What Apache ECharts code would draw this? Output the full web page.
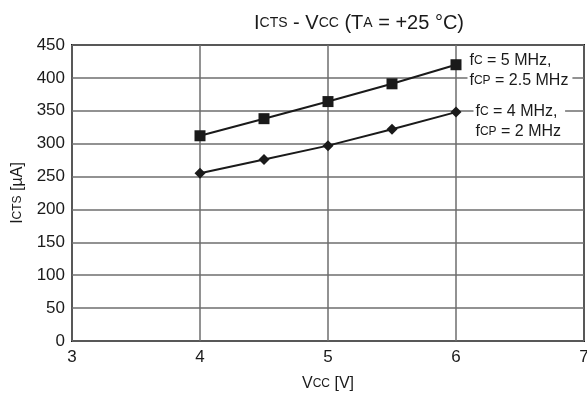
<!DOCTYPE html>
<html>
<head>
<meta charset="utf-8">
<script src="https://cdn.jsdelivr.net/npm/echarts@6/dist/echarts.min.js"></script>
<style>
  html, body { margin: 0; padding: 0; background: #fff; }
  #chart { width: 587px; height: 398px; }
</style>
</head>
<body>
<div id="chart"></div>
<script>
// supply voltage points [V]
const vccValues = [4, 4.5, 5, 5.5, 6];
// ICTS [uA] for fC = 5 MHz, fCP = 2.5 MHz
const icts5MHz = [312, 338, 364, 391, 420];
// ICTS [uA] for fC = 4 MHz, fCP = 2 MHz
const icts4MHz = [255, 276, 297, 322, 348];

const font = 'Liberation Sans, Arial, sans-serif';
const ink = '#1a1a1a';

const smallCaps = {
  n: {fontSize: 16, fontFamily: font, color: ink, fontWeight: 'normal'},
  s: {fontSize: 12, fontFamily: font, color: ink, fontWeight: 'normal'}
};

// label on the last point of each curve
function endLabel(text, dist, dy) {
  return {
    show: true,
    position: 'right',
    distance: dist,
    offset: [0, dy],
    backgroundColor: '#fff',
    padding: [0, 4, 0, 2],
    lineHeight: 20,
    rich: smallCaps,
    formatter: p => (p.dataIndex === vccValues.length - 1 ? text : '')
  };
}

const chart = echarts.init(document.getElementById('chart'));
chart.setOption({
  animation: false,
  title: {
    text: '{n|I}{s|CTS}{n| - V}{s|CC}{n| (T}{s|A}{n| = +25 °C)}',
    left: 354,
    top: 8,
    textAlign: 'center',
    textStyle: {
      fontWeight: 'normal',
      rich: {
        n: {fontSize: 20, fontFamily: font, color: ink, fontWeight: 'normal'},
        s: {fontSize: 14, fontFamily: font, color: ink, fontWeight: 'normal'}
      }
    }
  },
  grid: {
    left: 72,
    right: 3,
    top: 45,
    bottom: 57,
    outerBoundsMode: 'none',
    show: true,
    borderColor: ink,
    borderWidth: 2
  },
  xAxis: {
    type: 'value',
    min: 3,
    max: 7,
    interval: 1,
    name: '{n|V}{s|CC}{n| [V]}',
    nameLocation: 'middle',
    nameGap: 35,
    nameTextStyle: {rich: smallCaps},
    axisLine: {show: false},
    axisTick: {show: false},
    axisLabel: {fontSize: 17, fontFamily: font, color: ink, margin: 8},
    splitLine: {lineStyle: {color: '#6e6e6e', width: 1.5}}
  },
  yAxis: {
    type: 'value',
    min: 0,
    max: 450,
    interval: 50,
    name: '{n|I}{s|CTS}{n| [µA]}',
    nameLocation: 'middle',
    nameGap: 45,
    nameTextStyle: {rich: smallCaps},
    axisLine: {show: false},
    axisTick: {show: false},
    axisLabel: {fontSize: 17, fontFamily: font, color: ink, margin: 7},
    splitLine: {lineStyle: {color: '#6e6e6e', width: 1.5}}
  },
  series: [
    {
      type: 'line',
      data: vccValues.map((v, i) => [v, icts5MHz[i]]),
      symbol: 'rect',
      symbolSize: 11,
      lineStyle: {color: ink, width: 2},
      itemStyle: {color: ink},
      label: endLabel('{n|f}{s|C}{n| = 5 MHz,}\n{n|f}{s|CP}{n| = 2.5 MHz}', 6, 6)
    },
    {
      type: 'line',
      data: vccValues.map((v, i) => [v, icts4MHz[i]]),
      symbol: 'diamond',
      symbolSize: 11,
      lineStyle: {color: ink, width: 2},
      itemStyle: {color: ink},
      label: endLabel('{n|f}{s|C}{n| = 4 MHz,}\n{n|f}{s|CP}{n| = 2 MHz}', 12, 10)
    }
  ]
});
</script>
</body>
</html>
